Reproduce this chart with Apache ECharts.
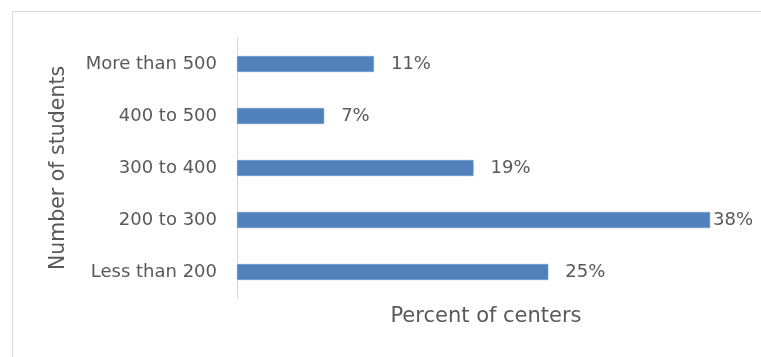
<!DOCTYPE html>
<html>
<head>
<meta charset="utf-8">
<script src="https://cdn.jsdelivr.net/npm/echarts@6/dist/echarts.min.js"></script>
<style>
  html, body { margin: 0; padding: 0; background: #fff; }
  #chart { width: 761px; height: 357px; }
</style>
</head>
<body>
<div id="chart"></div>
<script>
// Enrolment size bands, listed top to bottom
const categories = ['More than 500', '400 to 500', '300 to 400', '200 to 300', 'Less than 200'];
// Share of centers in each band (%)
const percents = [11, 7, 19, 38, 25];
const xAxisTitle = 'Percent of centers';
const yAxisTitle = 'Number of students';

const textColor = '#595959';
const barColor = '#4f81bd';
const fontFamily = '"DejaVu Sans", "Liberation Sans", Arial, sans-serif';

const chart = echarts.init(document.getElementById('chart'));

const seriesData = percents.map(function (v) {
  const item = { value: v };
  // the largest bar runs to the edge, so its label sits tight against it
  if (v === Math.max.apply(null, percents)) {
    item.label = { distance: 3 };
  }
  return item;
});

chart.setOption({
  animation: false,
  backgroundColor: '#fff',
  graphic: [{
    type: 'rect',
    shape: { x: 12.5, y: 11.5, width: 800, height: 400 },
    style: { fill: 'none', stroke: '#d9d9d9', lineWidth: 1 },
    silent: true,
    z: -1
  }],
  grid: { left: 237, top: 38, width: 498, height: 260, containLabel: false },
  xAxis: {
    type: 'value',
    min: 0,
    max: 40,
    name: xAxisTitle,
    nameLocation: 'middle',
    nameGap: 8,
    nameTextStyle: { color: textColor, fontSize: 21, fontFamily: fontFamily, verticalAlign: 'top' },
    axisLine: { show: false },
    axisTick: { show: false },
    axisLabel: { show: false },
    splitLine: { show: false }
  },
  yAxis: {
    type: 'category',
    data: categories,
    inverse: true,
    name: yAxisTitle,
    nameLocation: 'middle',
    nameGap: 168,
    nameRotate: 90,
    nameTextStyle: { color: textColor, fontSize: 20.5, fontFamily: fontFamily },
    axisLine: { show: true, lineStyle: { color: '#d9d9d9', width: 1 } },
    axisTick: { show: false },
    axisLabel: { color: textColor, fontSize: 18, fontFamily: fontFamily, margin: 20 }
  },
  series: [{
    type: 'bar',
    data: seriesData,
    barWidth: 16,
    itemStyle: { color: barColor, borderColor: '#6f97c9', borderWidth: 0.5 },
    label: {
      show: true,
      position: 'right',
      distance: 17,
      color: textColor,
      fontSize: 18,
      fontFamily: fontFamily,
      formatter: '{c}%'
    }
  }]
});
</script>
</body>
</html>
